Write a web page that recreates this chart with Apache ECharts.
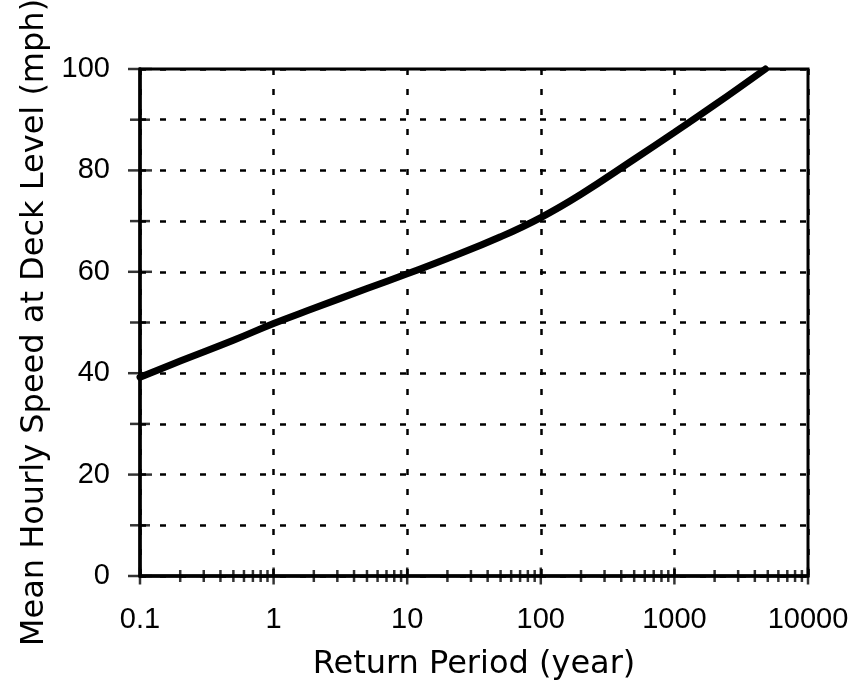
<!DOCTYPE html>
<html>
<head>
<meta charset="utf-8">
<script src="https://cdn.jsdelivr.net/npm/echarts@6/dist/echarts.min.js"></script>
<style>
html,body{margin:0;padding:0;background:#fff;}
#chart{width:857px;height:691px;}
</style>
</head>
<body>
<div id="chart"></div>
<script>
// Curve values
var returnPeriod = [0.1, 0.2, 0.5, 1, 2, 5, 10, 20, 50, 100, 200, 500, 1000, 2000, 4800];
var speed        = [39.2, 42.4, 46.5, 49.8, 52.8, 56.7, 59.6, 62.6, 66.9, 70.7, 75.3, 82.2, 87.5, 92.9, 100];

// Axis ticks
var xDecades = [0.1, 1, 10, 100, 1000, 10000];
var xMinorMultipliers = [2, 3, 4, 5, 6, 7, 8, 9];
var yTicks = [0, 10, 20, 30, 40, 50, 60, 70, 80, 90, 100];

var xMajorTickData = xDecades.map(function (d) { return [d, 0]; });
var xMinorTickData = [];
xDecades.slice(0, -1).forEach(function (d) {
  xMinorMultipliers.forEach(function (m) { xMinorTickData.push([+(d * m).toPrecision(3), 0]); });
});
var yMajorTickData = yTicks.filter(function (v) { return v % 20 === 0; }).map(function (v) { return [0.1, v]; });
var yMinorTickData = yTicks.filter(function (v) { return v % 20 !== 0; }).map(function (v) { return [0.1, v]; });

var LABEL_FONT = 'Liberation Sans';
var NAME_FONT = 'DejaVu Sans';
var chart = echarts.init(document.getElementById('chart'), null, {renderer: 'canvas'});
var dash = {color: '#000', width: 2.5, type: [6, 14]};

chart.setOption({
  backgroundColor: '#fff',
  animation: false,
  grid: {left: 140, right: 49, top: 69, bottom: 115, outerBoundsMode: 'none', containLabel: false,
         show: true, borderColor: '#000', borderWidth: 3, backgroundColor: 'transparent'},
  xAxis: {
    type: 'log', logBase: 10, min: 0.1, max: 10000,
    name: 'Return Period (year)', nameLocation: 'middle', nameGap: 73,
    nameTextStyle: {fontFamily: NAME_FONT, fontSize: 32, color: '#000'},
    axisLine: {show: true, lineStyle: {color: '#000', width: 3.5}},
    axisTick: {show: false},
    axisLabel: {fontFamily: LABEL_FONT, fontSize: 29, color: '#000', margin: 29,
      formatter: function (v) { return String(+v.toPrecision(6)); }},
    splitLine: {show: true, lineStyle: dash},
    minorTick: {show: false}, minorSplitLine: {show: false}
  },
  yAxis: {
    type: 'value', min: 0, max: 100, interval: 10,
    name: 'Mean Hourly Speed at Deck Level (mph)', nameLocation: 'middle', nameGap: 85,
    nameTextStyle: {fontFamily: NAME_FONT, fontSize: 32, color: '#000'},
    axisLine: {show: true, lineStyle: {color: '#000', width: 3.5}},
    axisTick: {show: false},
    axisLabel: {fontFamily: LABEL_FONT, fontSize: 29, color: '#000', margin: 30,
      formatter: function (v) { return v % 20 === 0 ? String(v) : ''; }},
    splitLine: {show: true, lineStyle: dash}
  },
  series: [
    {type: 'line', data: returnPeriod.map(function (x, i) { return [x, speed[i]]; }),
     smooth: 0.45, showSymbol: false, clip: false,
     lineStyle: {color: '#000', width: 7, cap: 'round'}, z: 5},
    {type: 'scatter', data: xMajorTickData, symbol: 'rect', symbolSize: [2.5, 17], clip: false,
     itemStyle: {color: '#000'}, silent: true, z: 4},
    {type: 'scatter', data: xMinorTickData, symbol: 'rect', symbolSize: [2.5, 12], clip: false,
     itemStyle: {color: '#000'}, silent: true, z: 4},
    {type: 'scatter', data: yMajorTickData, symbol: 'rect', symbolSize: [24, 2.5], clip: false,
     itemStyle: {color: '#000'}, silent: true, z: 4},
    {type: 'scatter', data: yMinorTickData, symbol: 'rect', symbolSize: [20, 2.5], clip: false,
     itemStyle: {color: '#000'}, silent: true, z: 4}
  ]
});
</script>
</body>
</html>
